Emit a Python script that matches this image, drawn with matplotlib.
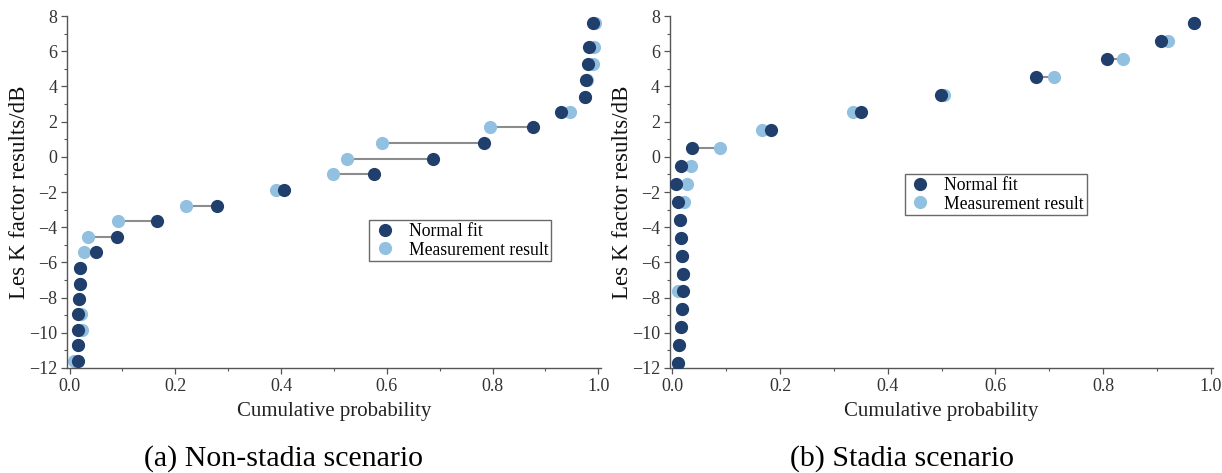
import matplotlib
matplotlib.use("Agg")
import matplotlib.pyplot as plt
from matplotlib.ticker import MultipleLocator
import numpy as np

plt.rcParams['font.family'] = ['Liberation Serif', 'DejaVu Serif']
plt.rcParams['axes.unicode_minus'] = True

# (a) non-stadia scenario
a_k = [-11.6, -10.72, -9.85, -8.95, -8.08, -7.2, -6.3, -5.42, -4.55, -3.65, -2.78,
       -1.89, -0.98, -0.13, 0.76, 1.67, 2.56, 3.41, 4.36, 5.25, 6.25, 7.6]
a_fit = [0.015, 0.015, 0.015, 0.016, 0.018, 0.019, 0.020, 0.050, 0.090, 0.166, 0.279,
         0.406, 0.575, 0.687, 0.783, 0.876, 0.930, 0.974, 0.977, 0.981, 0.983, 0.989]
a_meas = [0.009, 0.015, 0.024, 0.021, 0.018, 0.019, 0.020, 0.027, 0.035, 0.091, 0.221,
          0.391, 0.498, 0.524, 0.591, 0.796, 0.947, 0.975, 0.979, 0.989, 0.991, 0.994]

# (b) stadia scenario
b_k = [-11.69, -10.68, -9.67, -8.65, -7.64, -6.63, -5.63, -4.6, -3.59, -2.57, -1.52,
       -0.51, 0.50, 1.52, 2.53, 3.52, 4.54, 5.55, 6.57, 7.60]
b_fit = [0.011, 0.012, 0.016, 0.018, 0.019, 0.019, 0.017, 0.016, 0.014, 0.010, 0.007,
         0.016, 0.036, 0.183, 0.350, 0.499, 0.675, 0.807, 0.908, 0.969]
b_meas = [0.011, 0.012, 0.016, 0.018, 0.011, 0.019, 0.017, 0.016, 0.014, 0.021, 0.027,
          0.035, 0.088, 0.167, 0.335, 0.504, 0.708, 0.837, 0.920, 0.969]

captions = ['(a) Non-stadia scenario', '(b) Stadia scenario']
dark = '#213f6c'
light = '#92c0e0'

fig = plt.figure(figsize=(12.22, 4.73), dpi=100)
ax_a = fig.add_axes([0.0548, 0.222, 0.437, 0.744])
ax_b = fig.add_axes([0.548, 0.222, 0.445, 0.744])

panels = [(ax_a, a_k, a_fit, a_meas, (0.566, 0.42)),
          (ax_b, b_k, b_fit, b_meas, (0.432, 0.551))]

for i, (ax, k, fit, meas, leg_pos) in enumerate(panels):
    k = np.array(k)
    fit = np.array(fit)
    meas = np.array(meas)
    ax.hlines(k, np.minimum(fit, meas), np.maximum(fit, meas), color='#8c8c8c', lw=1.5, zorder=1)
    ax.plot(meas, k, 'o', color=light, ms=9.5, mec='none', zorder=2, label='Measurement result')
    ax.plot(fit, k, 'o', color=dark, ms=9.5, mec='none', zorder=3, label='Normal fit')

    ax.set_xlim(-0.005, 1.005)
    ax.set_ylim(-12, 8)
    ax.xaxis.set_major_locator(MultipleLocator(0.2))
    ax.xaxis.set_minor_locator(MultipleLocator(0.1))
    ax.yaxis.set_major_locator(MultipleLocator(2))
    ax.yaxis.set_minor_locator(MultipleLocator(1))
    ax.xaxis.set_major_formatter(plt.FuncFormatter(lambda v, p: '%.1f' % v))
    for s in ['top', 'right']:
        ax.spines[s].set_visible(False)
    for s in ['left', 'bottom']:
        ax.spines[s].set_color('#555555')
        ax.spines[s].set_linewidth(1.0)
    ax.tick_params(which='major', length=4, width=0.9, color='#555555', labelsize=13, pad=3, labelcolor='#333333')
    ax.tick_params(which='minor', length=2.5, width=0.8, color='#555555')

    ax.set_xlabel('Cumulative probability', fontsize=15, labelpad=5, color='#222222')
    ax.set_ylabel('Les K factor results/dB', fontsize=16.5, labelpad=-1, color='#111111')

    h, l = ax.get_legend_handles_labels()
    leg = ax.legend(h[::-1], l[::-1], loc='upper left', bbox_to_anchor=leg_pos, fontsize=12.7,
                    frameon=True, fancybox=False, edgecolor='#444444', borderpad=0.15,
                    handletextpad=0.6, labelspacing=0.1, borderaxespad=0, handlelength=1.5)
    leg.get_frame().set_linewidth(1.0)

fig.text(0.232, 0.038, captions[0], fontsize=21.5, ha='center', va='center_baseline')
fig.text(0.738, 0.038, captions[1], fontsize=21.5, ha='center', va='center_baseline')

fig.savefig('out.png', dpi=100)
